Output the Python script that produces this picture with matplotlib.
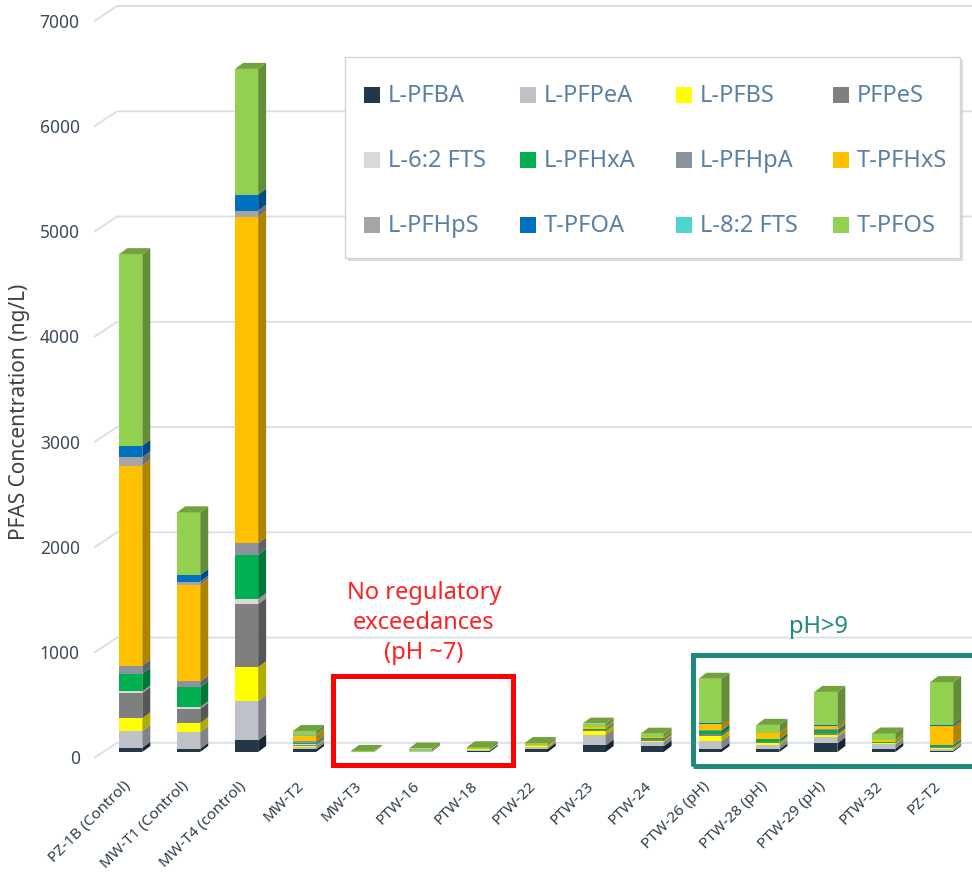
import matplotlib.pyplot as plt
import matplotlib.transforms as mtransforms
from matplotlib.patches import Rectangle
import numpy as np

# sampling sites (x axis)
sites = ['PZ-1B (Control)', 'MW-T1 (Control)', 'MW-T4 (control)', 'MW-T2', 'MW-T3',
         'PTW-16', 'PTW-18', 'PTW-22', 'PTW-23', 'PTW-24', 'PTW-26 (pH)',
         'PTW-28 (pH)', 'PTW-29 (pH)', 'PTW-32', 'PZ-T2']

compounds = ['L-PFBA', 'L-PFPeA', 'L-PFBS', 'PFPeS', 'L-6:2 FTS', 'L-PFHxA',
             'L-PFHpA', 'T-PFHxS', 'L-PFHpS', 'T-PFOA', 'L-8:2 FTS', 'T-PFOS']
colors = ['#243746', '#bfc1c8', '#ffff00', '#7f7f7f', '#d9d9d9', '#00b050',
          '#8c939d', '#ffc000', '#a5a5a5', '#0070c0', '#4fd5cc', '#92d050']

# concentrations (ng/L), estimated from the stacked bars
l_pfba = [40, 30, 110, 25, 2, 0, 12, 30, 63, 54, 31, 25, 82, 32, 10]
l_pfpea = [160, 160, 373, 25, 0, 8, 8, 15, 95, 40, 73, 38, 60, 41, 15]
l_pfbs = [120, 85, 323, 10, 0, 5, 5, 10, 40, 15, 47, 22, 22, 15, 15]
pfpes = [240, 136, 600, 10, 0, 0, 0, 0, 10, 12, 19, 10, 19, 0, 10]
l_62fts = [15, 15, 47, 5, 0, 0, 0, 0, 0, 0, 0, 0, 0, 0, 0]
l_pfhxa = [170, 190, 420, 15, 0, 0, 0, 0, 10, 8, 32, 25, 22, 10, 15]
l_pfhpa = [75, 54, 110, 10, 0, 0, 0, 0, 0, 0, 10, 5, 10, 0, 5]
t_pfhxs = [1900, 917, 3100, 55, 0, 0, 0, 10, 15, 15, 54, 54, 32, 15, 174]
l_pfhps = [80, 32, 60, 5, 0, 0, 0, 0, 5, 0, 0, 0, 0, 0, 0]
t_pfoa = [110, 63, 152, 5, 0, 0, 0, 0, 0, 0, 10, 0, 8, 0, 15]
l_82fts = [0, 0, 0, 0, 0, 0, 0, 0, 0, 0, 0, 0, 0, 0, 0]
t_pfos = [1820, 595, 1195, 35, 8, 20, 20, 20, 32, 30, 420, 79, 316, 63, 405]

series = [l_pfba, l_pfpea, l_pfbs, pfpes, l_62fts, l_pfhxa,
          l_pfhpa, t_pfhxs, l_pfhps, t_pfoa, l_82fts, t_pfos]

yticks = [0, 1000, 2000, 3000, 4000, 5000, 6000, 7000]

plt.rcParams['font.family'] = ['Noto Sans', 'DejaVu Sans']


def shade(c, f):
    r, g, b = [int(c[i:i + 2], 16) / 255 for i in (1, 3, 5)]
    return (r * f, g * f, b * f)


W, H = 972, 874
fig = plt.figure(figsize=(W / 100, H / 100), dpi=100)
ax = fig.add_axes([95 / W, (H - 757.5) / H, 877 / W, 736.8 / H])
px_x = 57.92          # pixels per category
px_y = 736.8 / 7000   # pixels per ng/L
ax.set_xlim(-(130.8 - 95) / px_x, (972 - 130.8) / px_x)
ax.set_ylim(0, 7000)
for s in ax.spines.values():
    s.set_visible(False)

# "3D" grid: diagonal from the front edge, line along the back wall
blend = mtransforms.blended_transform_factory(ax.transAxes, ax.transData)
gdx = 22 / 877
gdy = 14.7 / px_y
for v in yticks:
    ax.plot([0, gdx, 1.2], [v, v + gdy, v + gdy], transform=blend,
            color='#d7e1ea', lw=1.4, clip_on=False, zorder=0)

# stacked bars with side and top faces
bar_trans = mtransforms.offset_copy(ax.transData, fig=fig, x=0, y=5.5, units='dots')
x = np.arange(len(sites))
w = 23 / px_x
ddx = 8 / px_x
ddy = 6 / px_y
bottom = np.zeros(len(sites))
top_color = ['#92d050'] * len(sites)
for vals, c in zip(series, colors):
    vals = np.array(vals, dtype=float)
    ax.bar(x, vals, w, bottom=bottom, color=c, lw=0, transform=bar_trans, zorder=2)
    for i in range(len(sites)):
        if vals[i] <= 0:
            continue
        b, t = bottom[i], bottom[i] + vals[i]
        xr = x[i] + w / 2
        ax.fill([xr, xr + ddx, xr + ddx, xr], [b, b + ddy, t + ddy, t],
                color=shade(c, 0.68), lw=0, transform=bar_trans, zorder=2)
        top_color[i] = c
    bottom += vals

for i in range(len(sites)):
    t = bottom[i]
    xl, xr = x[i] - w / 2, x[i] + w / 2
    ax.fill([xl, xr, xr + ddx, xl + ddx], [t, t, t + ddy, t + ddy],
            color=shade(top_color[i], 0.78), lw=0, transform=bar_trans, zorder=2)

# axes ticks and labels
ax.set_yticks(yticks)
ax.tick_params(axis='y', length=0, pad=11, labelsize=12.5, labelcolor='#3c4a5a')
ax.set_xticks(x)
ax.set_xticklabels(sites, rotation=45, ha='right', va='center', rotation_mode='anchor')
ax.tick_params(axis='x', length=0, pad=19, labelsize=11, labelcolor='#2e3d4c')
shift = mtransforms.ScaledTranslation(-3 / 100, 0, fig.dpi_scale_trans)
for lbl in ax.get_xticklabels():
    lbl.set_transform(lbl.get_transform() + shift)

fig.text(20 / W, 1 - 412 / H, 'PFAS Concentration (ng/L)', rotation=90,
         ha='center', va='center', fontsize=15, color='#404040')

# annotation boxes
def ypx(p):
    return (757.5 - p) / px_y


def xpx(p):
    return (p - 130.8) / px_x


ax.add_patch(Rectangle((xpx(332.5), ypx(765)), xpx(512.5) - xpx(332.5), ypx(675.5) - ypx(765),
                       fill=False, edgecolor='#ff0000', lw=3.6, clip_on=False, zorder=3))
ax.text(xpx(424), ypx(623), 'No regulatory\nexceedances\n(pH ~7)', ha='center', va='center',
        fontsize=17, color='#ff2020', linespacing=1.33)

ax.add_patch(Rectangle((xpx(692.5), ypx(766)), 20, ypx(654.5) - ypx(766),
                       fill=False, edgecolor='#1e8a7e', lw=3.6, clip_on=False, zorder=3))
ax.text(xpx(818), ypx(627), 'pH>9', ha='center', va='center', fontsize=17, color='#1e8a7e')

# legend box drawn by hand: 4 columns x 3 rows
def fx(p):
    return p / W


def fy(p):
    return 1 - p / H


fig.add_artist(Rectangle((fx(348), fy(261)), fx(960) - fx(345), fy(57) - fy(258),
                         transform=fig.transFigure, facecolor='#c4c4c4', edgecolor='none',
                         alpha=0.6, zorder=4))
fig.add_artist(Rectangle((fx(345), fy(258)), fx(960) - fx(345), fy(57) - fy(258),
                         transform=fig.transFigure, facecolor='white', edgecolor='#d4d4d4',
                         lw=1, zorder=5))
col_x = [364, 520, 676, 833]
row_y = [95, 160, 225]
for k, (name, c) in enumerate(zip(compounds, colors)):
    r, col = divmod(k, 4)
    sx, sy = col_x[col], row_y[r]
    fig.add_artist(Rectangle((fx(sx), fy(sy + 8)), 16 / W, 16 / H, transform=fig.transFigure,
                             facecolor=c, edgecolor='none', zorder=6))
    fig.text(fx(sx + 24), fy(sy + 1), name, ha='left', va='center', fontsize=17,
             color='#5b80a6', zorder=6)

plt.savefig('out.png', dpi=100)
